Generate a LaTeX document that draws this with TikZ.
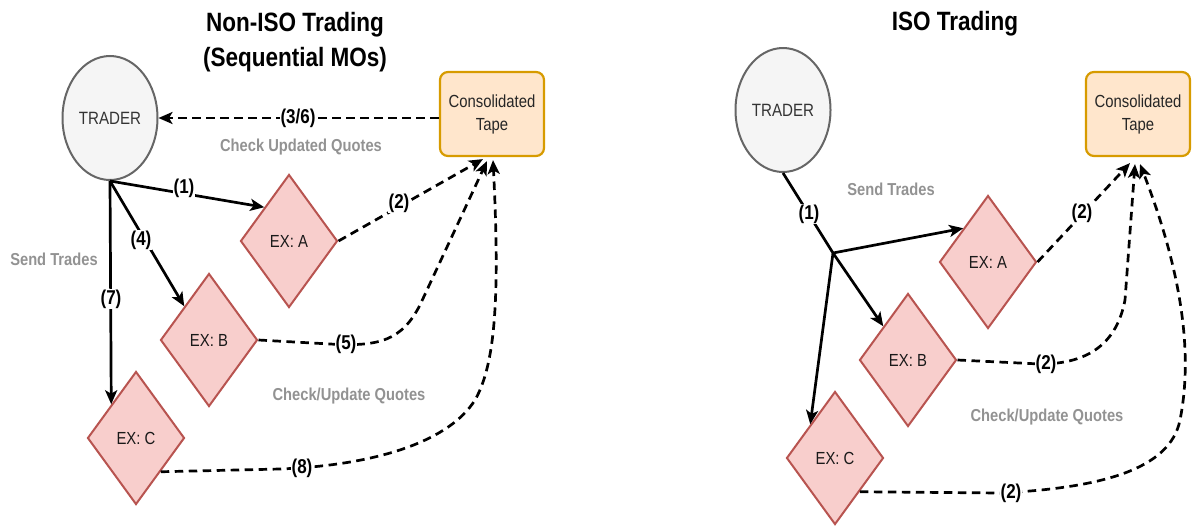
\documentclass[tikz,border=0pt]{standalone}
\usepackage{fontspec}
\setmainfont{Liberation Sans}[FakeStretch=0.85]
\usetikzlibrary{shapes.geometric,arrows.meta,calc}

\definecolor{traderfill}{HTML}{F5F5F5}
\definecolor{traderline}{HTML}{666666}
\definecolor{tradertext}{HTML}{333333}
\definecolor{tapefill}{HTML}{FFE6CC}
\definecolor{tapeline}{HTML}{D79B00}
\definecolor{exfill}{HTML}{F8CECC}
\definecolor{exline}{HTML}{B85450}
\definecolor{notegray}{HTML}{929292}

\tikzset{
  trader/.style={ellipse, draw=traderline, fill=traderfill, line width=2pt,
    minimum width=95pt, minimum height=124pt, inner sep=0pt, text=tradertext,
    font=\fontsize{17.8}{20}\selectfont},
  tape/.style={rectangle, rounded corners=8pt, draw=tapeline, fill=tapefill,
    line width=2.2pt, minimum width=104pt, minimum height=84pt, inner sep=0pt,
    align=center, text=black!85, font=\fontsize{17.5}{23}\selectfont},
  exch/.style={diamond, draw=exline, fill=exfill, line width=2pt,
    minimum width=97pt, minimum height=133pt, inner sep=0pt, text=black!90,
    font=\fontsize{17.5}{20}\selectfont},
  send/.style={-{Stealth[length=14pt,width=12pt,inset=3.5pt]}, line width=2.7pt},
  quote/.style={send, dash pattern=on 8.5pt off 5.5pt},
  trunk/.style={line width=2.7pt},
  steplabel/.style={fill=white, inner sep=1pt,
    font=\bfseries\fontsize{20}{22}\selectfont},
  note/.style={text=notegray, font=\bfseries\fontsize{17.3}{20}\selectfont},
  heading/.style={align=center, font=\bfseries\fontsize{26.5}{35}\selectfont}
}

\begin{document}
\begin{tikzpicture}[x=1pt,y=-1pt]
\useasboundingbox (0,0) rectangle (1196,525);

% ---------------- Non-ISO trading ----------------
\node[heading] (titleL) at (295,42) {Non-ISO Trading\\(Sequential MOs)};

\node[trader] (trL) at (110,118) {TRADER};
\node[tape] (tapeL) at (492,114) {Consolidated\\Tape};
\node[exch] (exA) at (289,241) {EX: A};
\node[exch] (exB) at (209,340) {EX: B};
\node[exch] (exC) at (136,438) {EX: C};

\coordinate (inL2) at ($(tapeL.south)+(-9,2)$);
\coordinate (inL5) at ($(tapeL.south)+(-5,4)$);
\coordinate (inL8) at ($(tapeL.south)+(1,3)$);

% quotes read back from the tape
\draw[quote] (tapeL.west |- trL.east) -- (trL.east);
\node[steplabel] (l36) at (298,118) {(3/6)};
\node[note] (nChk) at (301,147) {Check Updated Quotes};

% orders sent to the exchanges
\draw[send] (trL.south) -- (exA.north west);
\draw[send] (trL.south) -- (exB.north west);
\draw[send] (trL.south) -- (exC.north west);
\node[steplabel] (l1) at (184,188) {(1)};
\node[steplabel] (l4) at (141,240) {(4)};
\node[steplabel] (l7) at (111,299) {(7)};
\node[note] (nSend) at (54,259) {Send Trades};

% exchanges report to the tape
\draw[quote] (exA.east) -- (inL2);
\draw[quote] (exB.east) -- (330,344) .. controls (380,347) and (402,340) .. (420,305) -- (inL5);
\draw[quote] (exC.south east) -- (280,469) .. controls (380,465) and (450,440) .. (475,400)
  .. controls (495,365) and (500,300) .. (inL8);
\node[steplabel] (l2) at (399,203) {(2)};
\node[steplabel] (l5) at (346,344) {(5)};
\node[steplabel] (l8) at (302,468) {(8)};
\node[note] (nUpd) at (349,396) {Check/Update Quotes};

% ---------------- ISO trading ----------------
\node[heading] (titleR) at (955,24) {ISO Trading};

\node[trader] (trR) at (783,110) {TRADER};
\node[tape] (tapeR) at (1138,114) {Consolidated\\Tape};
\node[exch] (exAR) at (988,262) {EX: A};
\node[exch] (exBR) at (908,360) {EX: B};
\node[exch] (exCR) at (835,458) {EX: C};

\coordinate (fork) at (833,253);
\coordinate (inRA) at ($(tapeR.south)+(-8,6)$);
\coordinate (inRB) at ($(tapeR.south)+(-3,7)$);
\coordinate (inRC) at ($(tapeR.south)+(2,7)$);

% one sweep split across all exchanges
\draw[trunk] (trR.south) -- (fork);
\draw[send] (fork) -- (exAR.north west);
\draw[send] (fork) -- (exBR.north west);
\draw[send] (fork) -- (exCR.north west);
\node[steplabel] (r1) at (809,214) {(1)};
\node[note] (rSend) at (891,189) {Send Trades};

% exchanges report to the tape
\draw[quote] (exAR.east) -- (inRA);
\draw[quote] (exBR.east) -- (1040,364) .. controls (1090,364) and (1117,342) .. (1125,300) -- (inRB);
\draw[quote] (exCR.south east) -- (1000,493) .. controls (1100,488) and (1170,470) .. (1180,420)
  .. controls (1192,360) and (1185,280) .. (inRC);
\node[steplabel] (r2a) at (1082,213) {(2)};
\node[steplabel] (r2b) at (1046,364) {(2)};
\node[steplabel] (r2c) at (1011,493) {(2)};
\node[note] (rUpd) at (1047,417) {Check/Update Quotes};
\end{tikzpicture}
\end{document}
